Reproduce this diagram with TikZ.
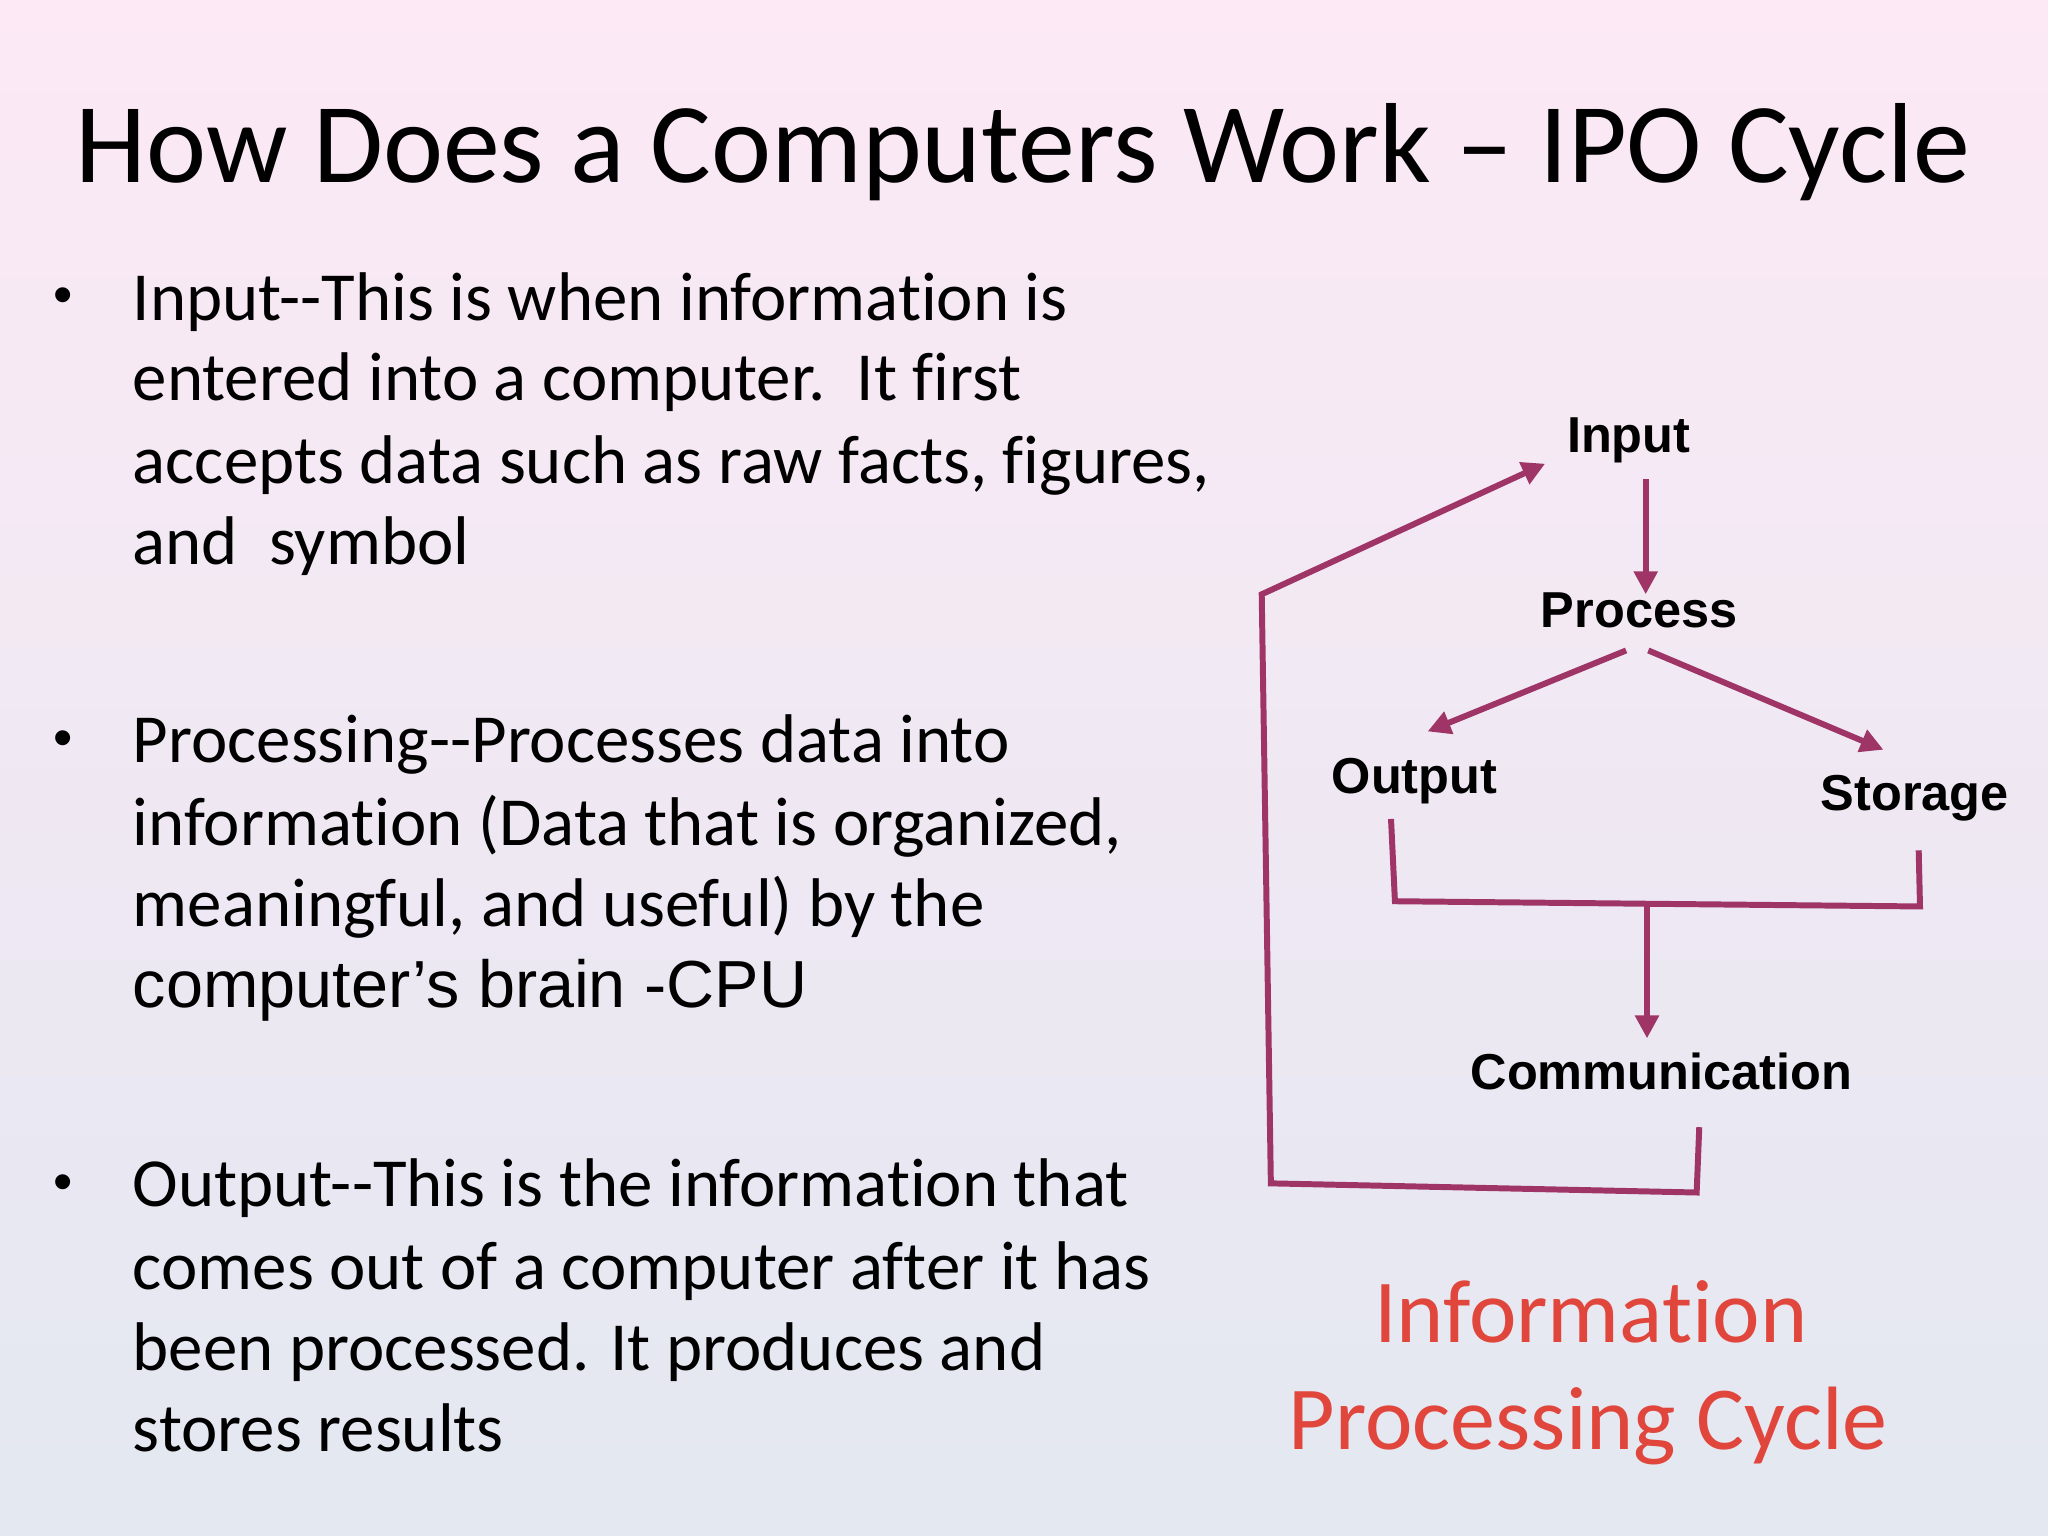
\documentclass[tikz,border=0pt]{standalone}
\usepackage{fontspec}
\setmainfont{Carlito}[Ligatures={NoCommon,NoRequired,NoContextual}]
\newfontfamily\arialf{Liberation Sans}
\usetikzlibrary{arrows.meta}
\definecolor{lnk}{HTML}{9E3566}
\definecolor{redt}{HTML}{E0463C}
\definecolor{topc}{HTML}{FCE9F5}
\definecolor{botc}{HTML}{E3E8F1}
\tikzset{
 bl/.style={anchor=base west,inner sep=0,font=\fontsize{15pt}{18pt}\selectfont},
 bul/.style={anchor=base west,inner sep=0,font=\arialf\fontsize{12pt}{14pt}\selectfont},
 lab/.style={inner sep=1pt,font=\arialf\bfseries\fontsize{11pt}{13pt}\selectfont},
 con/.style={draw=lnk,line width=1.3pt},
 arr/.style={con,-{Triangle[length=5pt,width=5pt]}},
}
\begin{document}
\begin{tikzpicture}[x=0.1mm,y=-0.1mm]
\shade[top color=topc,bottom color=botc] (0,0) rectangle (1568,1176);
\useasboundingbox (0,0) rectangle (1568,1176);
\node[anchor=base,inner sep=0,font=\fontsize{24.8pt}{28pt}\selectfont] (title) at (783,140) {How Does a Computers Work -- IPO Cycle};
\foreach \y in {240,579,919} \node[bul] at (40,\y) {•};
\node[bl] (a1) at (101,245) {Input{-}{-}This is when information is};
\node[bl] (a2) at (101,307) {entered into a computer.\ \ It first};
\node[bl] (a3) at (101,370) {accepts data such as raw facts, figures,};
\node[bl] (a4) at (101,432) {and\ \ symbol};
\node[bl] (b1) at (101,584) {Processing{-}{-}Processes data into};
\node[bl] (b2) at (101,647) {information (Data that is organized,};
\node[bl] (b3) at (101,709) {meaningful, and useful) by the};
\node[bl,font=\arialf\fontsize{14.5pt}{18pt}\selectfont] (b4) at (101,771) {computer’s brain -CPU};
\node[bl] (c1) at (101,924) {Output{-}{-}This is the information that};
\node[bl] (c2) at (101,987) {comes out of a computer after it has};
\node[bl] (c3) at (101,1049) {been processed. It produces and};
\node[bl] (c4) at (101,1111) {stores results};

\node[lab] (in) at (1247,337) {Input};
\node[lab] (pr) at (1255,467) {Process};
\node[lab] (out) at (1083,598) {Output};
\node[lab] (st) at (1466,611) {Storage};
\node[lab] (com) at (1272,820) {Communication};
\node[anchor=base,inner sep=0,text=redt,font=\fontsize{19.6pt}{23pt}\selectfont] (r1) at (1218,1028) {Information};
\node[anchor=base,inner sep=0,text=redt,font=\fontsize{19.6pt}{23pt}\selectfont] (r2) at (1216,1110) {Processing Cycle};

\coordinate (i1) at (1260,367);
\draw[arr] (i1) -- (1260,455);
\draw[arr] (1245,498) -- (1093,560);
\draw[arr] (1262,498) -- (1442,574);
\draw[con] (1065,627) -- (1068,690) -- (1470,694) -- (1469,651);
\draw[arr] (1261,693) -- (1261,795);
\draw[arr] (1301,863) -- (1299,913) -- (973,906) -- (966,455) -- (1183,355);
\end{tikzpicture}
\end{document}
